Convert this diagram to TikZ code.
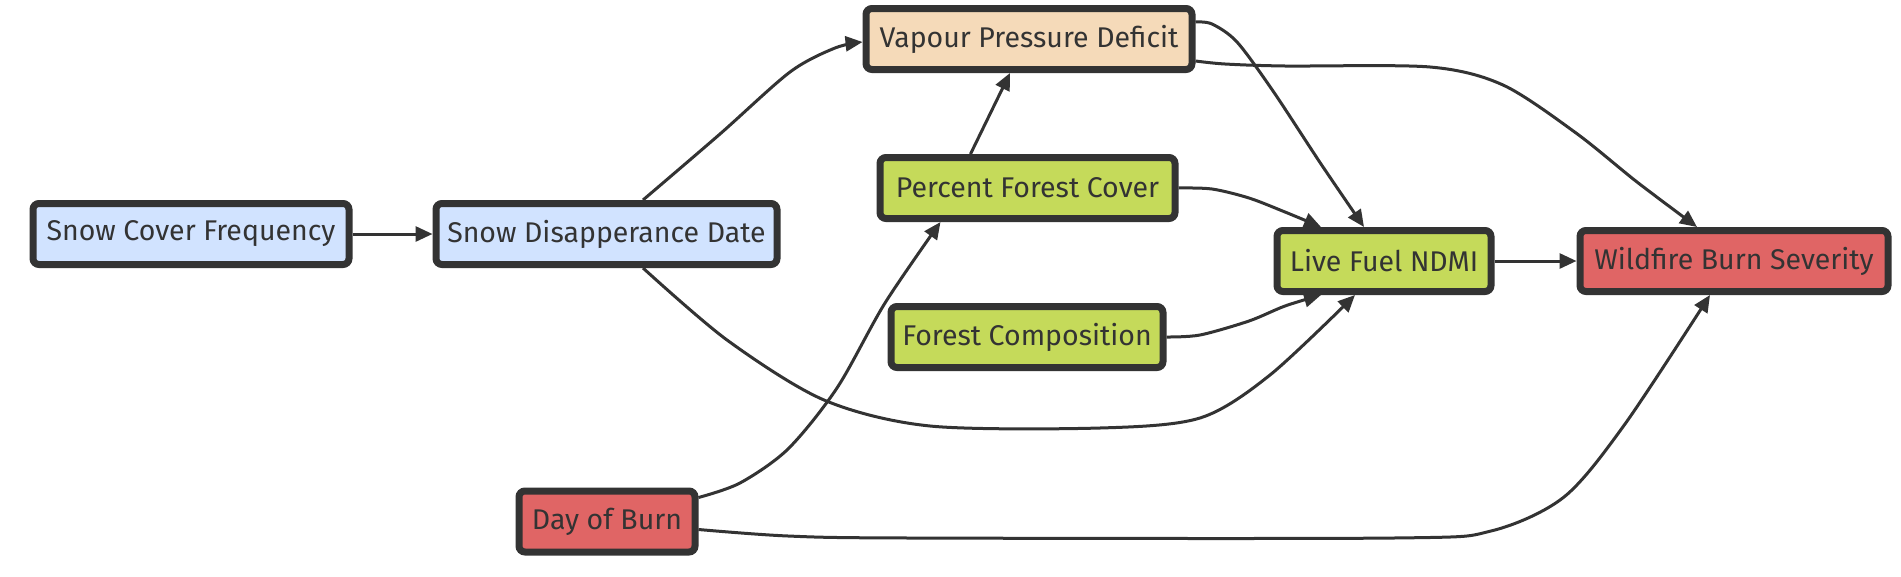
\documentclass[tikz,border=0pt]{standalone}
\usepackage{fontspec}
\setmainfont{Fira Sans}
\usepackage{xcolor}
\usetikzlibrary{arrows.meta,positioning}
\definecolor{FireInk}{HTML}{333333}
\definecolor{FireSnow}{HTML}{D1E3FF}
\definecolor{FirePeach}{HTML}{F5DAB9}
\definecolor{FireGreen}{HTML}{C5DA5A}
\definecolor{FireRed}{HTML}{E06565}
\tikzset{
  firebox/.style={draw=FireInk,line width=7pt,rounded corners=6pt,
    minimum height=61pt,inner sep=0pt,text=FireInk,
    font=\fontsize{28.5}{32}\selectfont},
  snowbox/.style={firebox,fill=FireSnow},
  vpdbox/.style={firebox,fill=FirePeach},
  forestbox/.style={firebox,fill=FireGreen},
  burnbox/.style={firebox,fill=FireRed},
  firelink/.style={draw=FireInk,line width=3pt,
    -{Triangle[length=17pt,width=15pt]}}
}

\begin{document}
\begin{tikzpicture}[x=1pt,y=-1pt]
        \useasboundingbox (0,0) rectangle (1901,576);

        \node[snowbox,minimum width=316pt] (scf) at (191,234) {Snow Cover Frequency};
        \node[snowbox,minimum width=341pt] (sdd) at (606.5,234) {Snow Disapperance Date};
        \node[vpdbox,minimum width=326pt] (vpd) at (1029,39) {Vapour Pressure Deficit};
        \node[forestbox,minimum width=295pt] (pfc) at (1027.5,188) {Percent Forest Cover};
        \node[forestbox,minimum width=272pt] (fc) at (1027,337) {Forest Composition};
        \node[burnbox,minimum width=176pt] (dob) at (607,521.5) {Day of Burn};
        \node[forestbox,minimum width=214pt] (ndmi) at (1384,261) {Live Fuel NDMI};
        \node[burnbox,minimum width=308pt] (wbs) at (1734,261) {Wildfire Burn Severity};

        % straight links
        \draw[firelink] (scf) -- (sdd);
        \draw[firelink] (ndmi) -- (wbs);
        \draw[firelink] ([xshift=-57pt]pfc.north) -- ([xshift=-19pt]vpd.south);

        % curved links
        \draw[firelink] plot[smooth] coordinates {
            ([xshift=36.5pt]sdd.north) (720,134) (790,72) (835,48) ([yshift=-3pt]vpd.west)
          };
        \draw[firelink] plot[smooth] coordinates {
            ([xshift=36.5pt]sdd.south) (727,340) (824,400) (930,426)
            (1100,428) (1200,418) (1270,375) ([xshift=-29pt]ndmi.south)
          };
        \draw[firelink] plot[smooth] coordinates {
            ([yshift=17pt]vpd.east) (1212,24) (1237,42) (1273,91)
            (1321,164) ([xshift=-20pt]ndmi.north)
          };
        \draw[firelink] plot[smooth] coordinates {
            ([yshift=-22pt]vpd.east) (1225,64) (1285,66) (1430,67)
            (1503,85) (1576,133) (1637,182) ([xshift=-37pt]wbs.north)
          };
        \draw[firelink] plot[smooth] coordinates {
            (pfc.east) (1212,189) (1249,198) (1285,212) ([xshift=-63pt]ndmi.north)
          };
        \draw[firelink] plot[smooth] coordinates {
            (fc.east) (1200,335) (1249,321) (1285,306) ([xshift=-63pt]ndmi.south)
          };
        \draw[firelink] plot[smooth] coordinates {
            ([yshift=24pt]dob.east) (740,483) (788,449) (837,388)
            (885,303) ([xshift=-87pt]pfc.south)
          };
        \draw[firelink] plot[smooth] coordinates {
            ([yshift=-8pt]dob.east) (788,536) (909,538) (1394,538)
            (1491,531) (1564,497) (1625,424) ([xshift=-24pt]wbs.south)
          };
      \end{tikzpicture}
\end{document}
